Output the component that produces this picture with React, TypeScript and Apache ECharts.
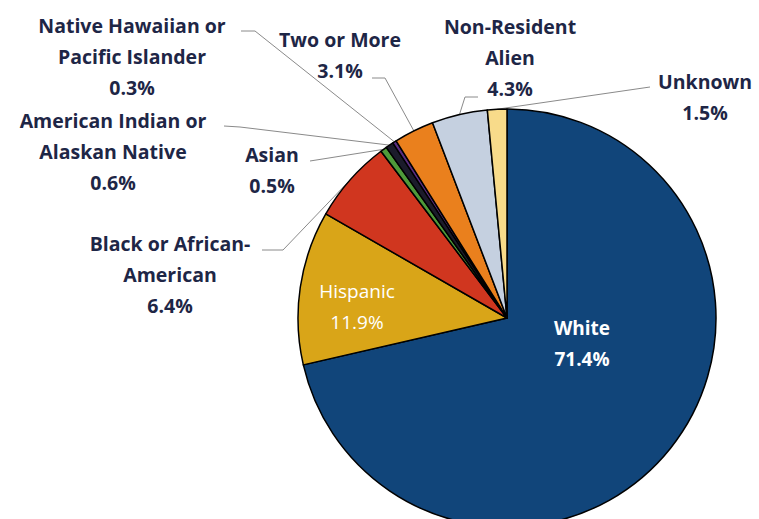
import React, { useEffect, useRef } from "react";
import * as echarts from "echarts";

// Data (clockwise from 12 o'clock)
const categories = [
  "White",
  "Hispanic",
  "Black or African-American",
  "Asian",
  "American Indian or Alaskan Native",
  "Native Hawaiian or Pacific Islander",
  "Two or More",
  "Non-Resident Alien",
  "Unknown",
];
const values = [71.4, 11.9, 6.4, 0.5, 0.6, 0.3, 3.1, 4.3, 1.5];
const labelText = [
  "White",
  "Hispanic",
  "Black or African-\nAmerican",
  "Asian",
  "American Indian or\nAlaskan Native",
  "Native Hawaiian or\nPacific Islander",
  "Two or More",
  "Non-Resident\nAlien",
  "Unknown",
];
const colors = [
  "#11457a",
  "#d9a518",
  "#d0361f",
  "#4f9a3a",
  "#1b1b2b",
  "#5a2d82",
  "#ea801d",
  "#c5d0e0",
  "#f8db8a",
];
const insideLabels = [true, true, false, false, false, false, false, false, false];

// Label layout (positions only)
const labelCenters: number[][] = [
  [582, 343],
  [357, 306],
  [170, 274],
  [272, 170],
  [113, 151],
  [132, 56],
  [340, 55],
  [510, 57],
  [705, 97],
];
const lineEnds: number[][][] = [
  [],
  [],
  [[283, 250], [262, 250]],
  [[310, 161]],
  [[240, 127], [224, 126]],
  [[255, 31], [241, 31]],
  [[385, 78], [372, 78]],
  [[465, 97], [478, 97]],
  [[650, 87]],
];

export default function App() {
  const ref = useRef<HTMLDivElement>(null);
  useEffect(() => {
    if (!ref.current) return;
    const chart = echarts.init(ref.current, null, { renderer: "svg" });
    const data = categories.map((name, i) => ({
      name,
      value: values[i],
      itemStyle: { color: colors[i] },
      label: insideLabels[i]
        ? {
            position: "inside" as const,
            color: "#ffffff",
            fontWeight: (i === 0 ? "bold" : "normal") as any,
            fontSize: 19,
          }
        : {},
      labelLine: { show: !insideLabels[i] },
    }));
    chart.setOption({
      animation: false,
      backgroundColor: "#ffffff",
      series: [
        {
          type: "pie",
          center: [507, 318],
          radius: 209,
          startAngle: 90,
          clockwise: true,
          avoidLabelOverlap: false,
          minAngle: 0,
          itemStyle: { borderColor: "#000000", borderWidth: 1.5 },
          label: {
            show: true,
            position: "outside",
            fontFamily: "Open Sans",
            fontWeight: "bold",
            fontSize: 19.5,
            lineHeight: 31,
            color: "#1e2646",
            align: "center",
            formatter: (p: any) =>
              labelText[p.dataIndex] + "\n" + Number(p.value).toFixed(1) + "%",
          },
          labelLine: {
            show: true,
            length: 10,
            length2: 10,
            lineStyle: { color: "#8a8a8a", width: 1 },
          },
          labelLayout: (p: any) => {
            const i = p.dataIndex;
            const c = labelCenters[i];
            const res: any = {
              x: c[0],
              y: c[1],
              align: "center",
              verticalAlign: "middle",
            };
            if (!insideLabels[i] && p.labelLinePoints) {
              res.labelLinePoints = [p.labelLinePoints[0], ...lineEnds[i]];
            }
            return res;
          },
          data,
        },
      ],
    });
    return () => chart.dispose();
  }, []);
  return (
    <div
      ref={ref}
      style={{ position: "absolute", left: 0, top: 0, width: 759, height: 519 }}
    />
  );
}
